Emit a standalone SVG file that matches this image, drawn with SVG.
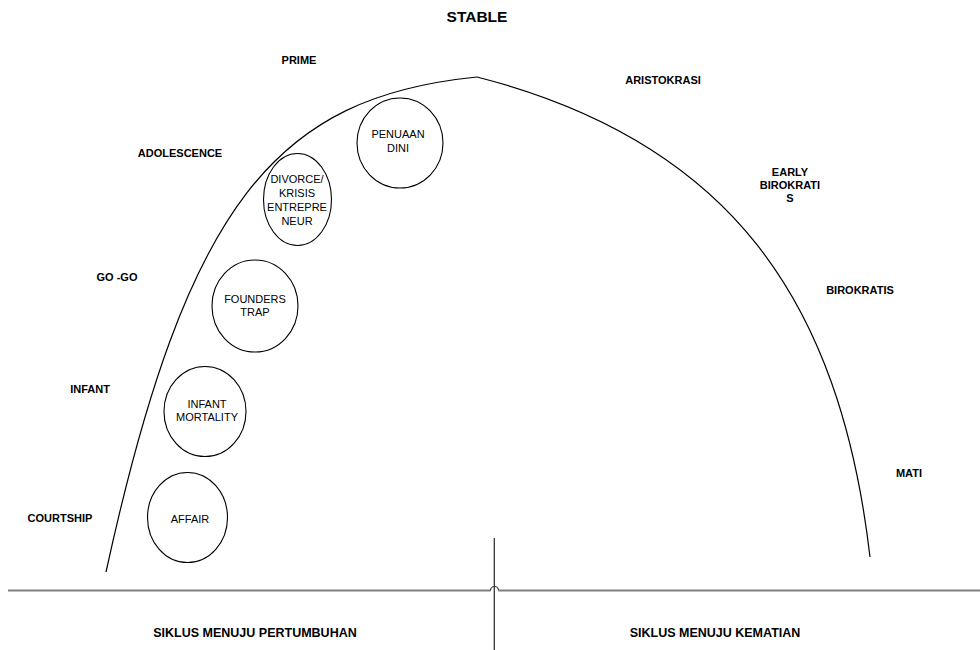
<svg xmlns="http://www.w3.org/2000/svg" width="980" height="650" viewBox="0 0 980 650">
<style>
.lbl{font-family:"Liberation Sans",Arial,sans-serif;font-size:11px;font-weight:bold;fill:#000;text-anchor:middle}
.ct{font-family:"Liberation Sans",Arial,sans-serif;font-size:11px;fill:#000;text-anchor:middle}
.big{font-family:"Liberation Sans",Arial,sans-serif;font-size:12.5px;font-weight:bold;fill:#000;text-anchor:middle}
.c{fill:#fff;stroke:#000;stroke-width:1.1}
.curve{fill:none;stroke:#000;stroke-width:1.2}
</style>
<rect width="980" height="650" fill="#fff"/>
<g id="connectors">
<path class="curve" d="M106,572 C187,201 277,97 477,77"/>
<path class="curve" d="M477,77 C729,141.5 840,299 870,557"/>
<path d="M8,590.5 H490.5 M498.5,590.5 H980" stroke="#808080" stroke-width="2" fill="none"/>
<path d="M490.5,590.5 A3.8,3.8 0 0 1 498.5,590.5" stroke="#333" stroke-width="1.2" fill="none"/>
<path d="M494.3,538 V650" stroke="#333" stroke-width="1.3" fill="none"/>
</g>
<g id="affair"><ellipse class="c" cx="187.5" cy="517.5" rx="40" ry="45"/><text class="ct" x="190" y="523">AFFAIR</text></g>
<g id="infant-mortality"><ellipse class="c" cx="205" cy="411.5" rx="41" ry="45"/><text class="ct" x="207" y="408">INFANT</text><text class="ct" x="207" y="421">MORTALITY</text></g>
<g id="founders-trap"><ellipse class="c" cx="255" cy="306" rx="43" ry="46"/><text class="ct" x="255" y="303">FOUNDERS</text><text class="ct" x="255" y="316">TRAP</text></g>
<g id="divorce"><ellipse class="c" cx="297.5" cy="199.5" rx="34" ry="46"/><text class="ct" x="297" y="183">DIVORCE/</text><text class="ct" x="297" y="197">KRISIS</text><text class="ct" x="297" y="211">ENTREPRE</text><text class="ct" x="297" y="225">NEUR</text></g>
<g id="penuaan-dini"><ellipse class="c" cx="400" cy="143" rx="43" ry="45"/><text class="ct" x="398" y="138">PENUAAN</text><text class="ct" x="398" y="152">DINI</text></g>
<g id="labels">
<text class="lbl" x="477" y="22" style="font-size:15.5px">STABLE</text>
<text class="lbl" x="299" y="64">PRIME</text>
<text class="lbl" x="180" y="157">ADOLESCENCE</text>
<text class="lbl" x="117" y="281">GO -GO</text>
<text class="lbl" x="90" y="393">INFANT</text>
<text class="lbl" x="60" y="522">COURTSHIP</text>
<text class="lbl" x="663" y="84">ARISTOKRASI</text>
<text class="lbl" x="790" y="176">EARLY</text>
<text class="lbl" x="790" y="189">BIROKRATI</text>
<text class="lbl" x="790" y="202">S</text>
<text class="lbl" x="860" y="294">BIROKRATIS</text>
<text class="lbl" x="909" y="477">MATI</text>
<text class="big" x="255" y="637">SIKLUS MENUJU PERTUMBUHAN</text>
<text class="big" x="715" y="637">SIKLUS MENUJU KEMATIAN</text>
</g>
</svg>
